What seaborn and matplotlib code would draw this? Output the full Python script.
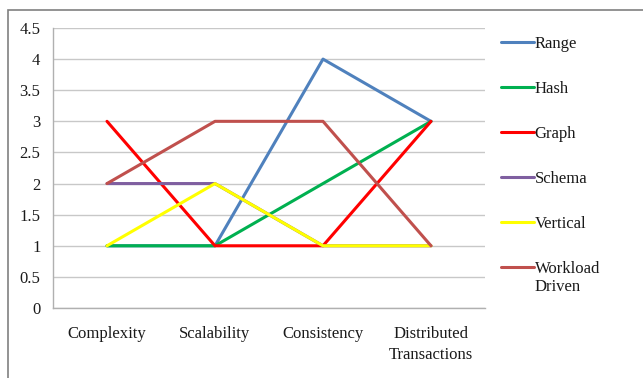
import matplotlib
matplotlib.use("Agg")
import matplotlib.pyplot as plt
import matplotlib.patches as mpatches
import numpy as np
import pandas as pd
import seaborn as sns

categories = ["Complexity", "Scalability", "Consistency", "Distributed\nTransactions"]
series = ["Range", "Hash", "Graph", "Schema", "Vertical", "Workload Driven"]

range_vals = [1, 1, 4, 3]
hash_vals = [1, 1, 2, 3]
graph_vals = [3, 1, 1, 3]
schema_vals = [2, 2, 1, 1]
vertical_vals = [1, 2, 1, 1]
workload_vals = [2, 3, 3, 1]

colors = ["#4F81BD", "#00B050", "#FF0000", "#7F5FA0", "#FFFF00", "#C0504D"]

rows = []
for name, vals in zip(series, [range_vals, hash_vals, graph_vals, schema_vals, vertical_vals, workload_vals]):
    for i, v in enumerate(vals):
        rows.append({"pos": i, "value": v, "series": name})
df = pd.DataFrame(rows)

sns.set_style("white")
plt.rcParams["font.family"] = ["Liberation Serif", "DejaVu Serif"]

fig = plt.figure(figsize=(6.43, 3.78), dpi=100)
ax = fig.add_axes([53 / 643, 1 - 308 / 378, (485 - 53) / 643, (308 - 28) / 378])

sns.lineplot(data=df, x="pos", y="value", hue="series", hue_order=series,
             palette=colors, sort=False, linewidth=2.2, ax=ax, legend=False)

ax.set_xlim(-0.5, 3.5)
ax.set_ylim(0, 4.5)
ax.set_yticks(np.arange(0, 4.51, 0.5))
ax.set_yticklabels(["0", "0.5", "1", "1.5", "2", "2.5", "3", "3.5", "4", "4.5"])
ax.set_xticks(range(4))
ax.set_xticklabels(categories, linespacing=1.45)
ax.set_xticks([-0.5, 0.5, 1.5, 2.5, 3.5], minor=True)
ax.tick_params(axis="x", which="major", length=0, pad=13, labelsize=12, colors="#1a1a1a")
ax.tick_params(axis="x", which="minor", length=4, color="#b0b0b0", direction="in")
ax.tick_params(axis="y", length=4, color="#b0b0b0", labelsize=12, colors="#1a1a1a", pad=5)
ax.yaxis.grid(True, color="#c8c8c8", linewidth=1)
ax.set_axisbelow(True)
ax.set_xlabel("")
ax.set_ylabel("")
for side in ["top", "right"]:
    ax.spines[side].set_visible(False)
for side in ["left", "bottom"]:
    ax.spines[side].set_color("#b0b0b0")
    ax.spines[side].set_linewidth(1)

# legend: "Workload Driven" wraps with the handle beside the first line
labels = [s.split(" ")[0] for s in series]
handles = [plt.Line2D([], [], color=c, linewidth=2.2) for c in colors]
leg = ax.legend(handles, labels, loc="upper left", bbox_to_anchor=(494 / 643, 1 - 29 / 378),
                bbox_transform=fig.transFigure, frameon=False, fontsize=12,
                handlelength=2.0, handletextpad=0.05, labelspacing=1.74, borderaxespad=0)
for t in leg.get_texts():
    t.set_color("#1a1a1a")

fig.canvas.draw()
bb = leg.get_texts()[-1].get_window_extent().transformed(fig.transFigure.inverted())
fig.text(bb.x0, bb.y0 - 2 / 378, "Driven", fontsize=12, color="#1a1a1a", va="top", ha="left")

fig.patches.append(mpatches.Rectangle((8 / 643, -0.1), 1.2, 1 - 10 / 378 + 0.1,
                                      transform=fig.transFigure, fill=False,
                                      edgecolor="#808080", linewidth=1.2))

fig.savefig("out.png", dpi=100)
